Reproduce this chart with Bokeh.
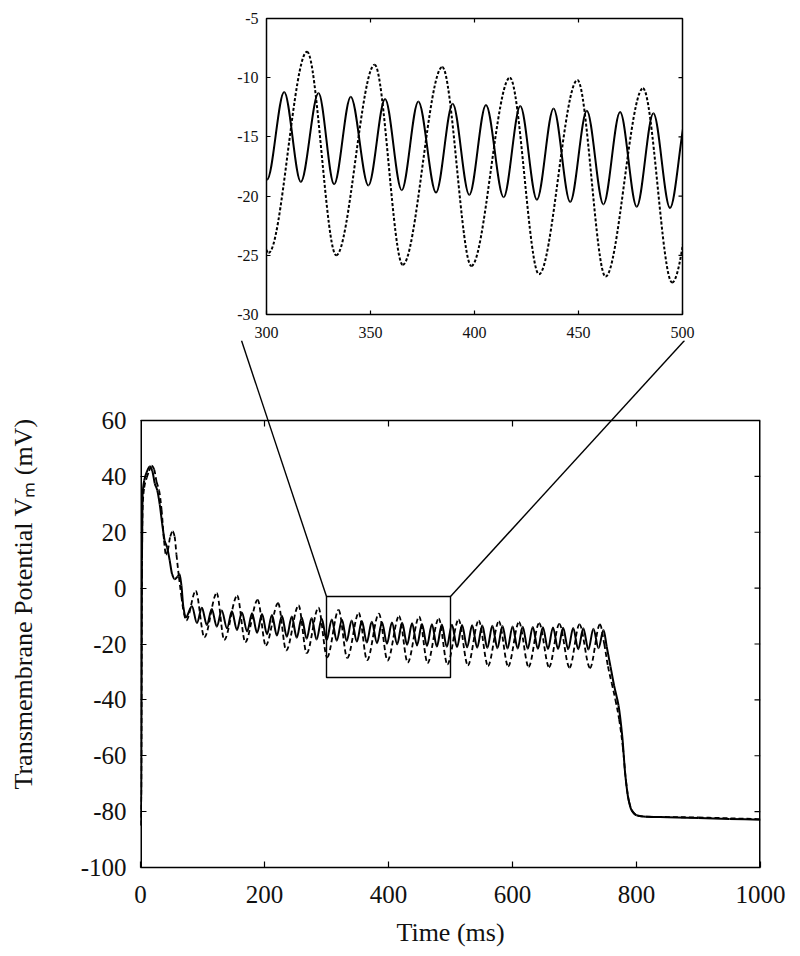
import numpy as np
from bokeh.plotting import figure
from bokeh.models import (Range1d, FixedTicker, CustomJSTickFormatter, Span, ColumnDataSource)
from bokeh.embed import file_html
from bokeh.resources import INLINE

# ---------------- data ----------------
solid_t = [0, 1.2, 2.3, 3.3, 6, 10, 15, 19, 23, 27, 31, 35, 39, 43, 47, 51, 55, 60, 63, 66, 69, 73,
           83, 91, 99, 107, 115, 123, 131, 139.5, 147.5, 155.5, 163.5, 172, 180, 188, 196, 204,
           212, 220, 228, 236, 244, 252, 260, 268, 276, 284, 292.3, 300.3, 308.5, 316.5, 325,
           332.5, 340.5, 349, 357, 365, 373, 381.5, 389.5, 397.5, 405.5, 414, 422, 430, 438, 446,
           454, 462, 470, 478, 486, 494, 502.3, 510.5, 518.6, 526.8, 534.9, 543, 551.2, 559.4,
           567.5, 575.7, 583.8, 592, 600.1, 608.3, 616.4, 624.6, 632.7, 640.9, 649, 657.2, 665.3,
           673.5, 681.6, 689.8, 697.9, 706, 714.2, 722.4, 730.5, 738.7, 746.8,
           752, 758, 764, 771, 777, 782, 787, 792, 800, 815, 850, 900, 950, 1000]
solid_v = [-85, -72, 10, 33, 38.5, 41.5, 43.5, 42, 37.5, 35, 30, 23, 17, 14.5, 10, 5, 3.2, 4.2, 5, 1, -6.5, -10.5,
           -6.5, -12.5, -7.0, -13.2, -7.5, -13.8, -8.0, -14.4, -8.3, -15.0, -8.7, -15.5, -9.0, -16.0, -9.3, -16.5,
           -9.6, -17.0, -9.9, -17.4, -10.2, -17.8, -10.5, -18.1, -10.7, -18.4, -11.0, -18.6, -11.2, -18.8, -11.3,
           -19.0, -11.6, -19.1, -11.8, -19.5, -12.0, -19.7, -12.2, -19.9, -12.3, -20.1, -12.4, -20.3, -12.6, -20.5,
           -12.8, -20.7, -12.9, -20.9, -13.0, -21.0, -13.1, -21.1, -13.2, -21.2, -13.3, -21.3, -13.4, -21.4,
           -13.5, -21.5, -13.6, -21.6, -13.7, -21.6, -13.8, -21.7, -13.9, -21.7, -14.0, -21.8, -14.1,
           -21.8, -14.2, -21.9, -14.3, -21.9, -14.4, -22.0, -14.5, -21.5, -15.0,
           -21, -28, -35, -42, -53, -67, -75.5, -79.5, -81.3, -81.8, -82.0, -82.3, -82.6, -82.9]

dashed_t = [0, 1.2, 2.3, 3.3, 6, 10, 14, 18, 22, 26, 30, 34, 38, 41, 44, 48, 52, 55, 58, 62, 66, 70, 74,
            89, 103, 123, 135, 156, 169, 189, 202, 222, 235, 255, 268, 287, 301, 319.5, 333.5, 352,
            365.5, 384.5, 398.5, 417, 431, 449.5, 463, 481, 495, 513, 528, 545.5, 560.5, 578, 593,
            610.5, 626, 643, 659, 675.5, 692, 708, 725, 741,
            748, 754, 760, 766, 772, 778, 783, 788, 794, 802, 820, 900, 1000]
dashed_v = [-85, -74, 5, 28, 36, 39.5, 42, 43.8, 42.5, 38, 35, 28, 17, 12, 13.5, 18.5, 20.3, 18.5, 12, 4, -3, -9, -11.5,
            -1.0, -17.6, -1.8, -18.5, -2.7, -19.3, -4.2, -20.5, -5.4, -22.3, -6.2, -23.3, -7.0, -24.8, -7.8, -25.0, -8.9,
            -25.8, -9.1, -25.9, -10.0, -26.6, -10.2, -26.8, -10.9, -27.3, -11.3, -27.6, -11.6, -27.8, -11.9, -28.0,
            -12.2, -28.2, -12.5, -28.3, -12.8, -28.5, -13.0, -28.6, -13.0,
            -20, -28, -34, -40, -47, -57, -69, -76.5, -80, -81.5, -81.8, -82.1, -82.7]

main_x_ticks = [0, 200, 400, 600, 800, 1000]
main_y_ticks = [-100, -80, -60, -40, -20, 0, 20, 40, 60]
inset_x_ticks = [300, 350, 400, 450, 500]
inset_y_ticks = [-30, -25, -20, -15, -10, -5]
zoom_box_x = [300, 500]
zoom_box_y = [-32, -3]

# ---------------- layout constants (page pixels) ----------------
FONT = "Liberation Serif"
TXT = "#111111"
W = 790
INSET_H = 340
MAIN_H = 614
MAIN_CANVAS_TOP = INSET_H        # page y where main figure canvas starts
FRAME_L, FRAME_R = 140, 760      # page x of main axes box
BOX_TOP, BOX_BOT = 420, 867      # page y of main axes box (60 / -100)
XMIN, XMAX = main_x_ticks[0], main_x_ticks[-1]
YMIN, YMAX = main_y_ticks[0], main_y_ticks[-1]
PX_X = (FRAME_R - FRAME_L) / (XMAX - XMIN)
PX_Y = (BOX_BOT - BOX_TOP) / (YMAX - YMIN)
Y_END = YMAX + (BOX_TOP - MAIN_CANVAS_TOP) / PX_Y   # frame extended above the box
YLABEL_CENTER_PY = 616


def px2x(px):
    return XMIN + (px - FRAME_L) / PX_X


def py2y(py):
    return YMAX - (py - BOX_TOP) / PX_Y


def bezier_source(t, v):
    t = np.asarray(t, float)
    v = np.asarray(v, float)
    h = np.diff(t)
    d = np.diff(v) / h
    s = np.zeros_like(v)
    for i in range(1, len(v) - 1):
        if d[i - 1] * d[i] > 0:
            w1 = 2 * h[i] + h[i - 1]
            w2 = h[i] + 2 * h[i - 1]
            s[i] = (w1 + w2) / (w1 / d[i - 1] + w2 / d[i])
    s[0] = d[0]
    s[-1] = d[-1]
    return ColumnDataSource(dict(
        x0=t[:-1], y0=v[:-1], x1=t[1:], y1=v[1:],
        cx0=t[:-1] + h / 3, cy0=v[:-1] + s[:-1] * h / 3,
        cx1=t[1:] - h / 3, cy1=v[1:] - s[1:] * h / 3))


src_solid = bezier_source(solid_t, solid_v)
src_dashed = bezier_source(dashed_t, dashed_v)
fmt = CustomJSTickFormatter(code="return String(Math.round(tick));")
BZ = dict(x0="x0", y0="y0", x1="x1", y1="y1", cx0="cx0", cy0="cy0", cx1="cx1", cy1="cy1")

# ---------------- inset figure ----------------
IN_L, IN_R, IN_T, IN_B = 266, 682, 18, 314
ins = figure(width=W, height=INSET_H, x_range=Range1d(inset_x_ticks[0], inset_x_ticks[-1]),
             y_range=Range1d(inset_y_ticks[0], inset_y_ticks[-1]),
             output_backend="svg", toolbar_location=None,
             min_border_left=IN_L, min_border_right=W - IN_R,
             min_border_top=IN_T, min_border_bottom=INSET_H - IN_B)
ins.grid.visible = False
ins.outline_line_color = "black"
ins.outline_line_width = 1.5
for ax, ticks in ((ins.xaxis[0], inset_x_ticks), (ins.yaxis[0], inset_y_ticks)):
    ax.ticker = FixedTicker(ticks=ticks)
    ax.formatter = fmt
    ax.axis_line_color = None
    ax.major_tick_in = 4
    ax.major_tick_out = 0
    ax.minor_tick_in = 0
    ax.minor_tick_out = 0
    ax.major_tick_line_width = 1.2
    ax.major_label_text_font = FONT
    ax.major_label_text_font_size = "16px"
    ax.major_label_text_color = TXT
ins.xaxis[0].major_label_standoff = 12
ins.yaxis[0].major_label_standoff = 8

# mirrored ticks on top and right of inset
tl_x = 4 * (inset_x_ticks[-1] - inset_x_ticks[0]) / (IN_R - IN_L)
tl_y = 4 * (inset_y_ticks[-1] - inset_y_ticks[0]) / (IN_B - IN_T)
ins.segment(x0=inset_x_ticks[1:-1], y0=[inset_y_ticks[-1]] * 3, x1=inset_x_ticks[1:-1],
            y1=[inset_y_ticks[-1] - tl_y] * 3, line_color="black", line_width=1.2)
ins.segment(x0=[inset_x_ticks[-1]] * 4, y0=inset_y_ticks[1:-1], x1=[inset_x_ticks[-1] - tl_x] * 4,
            y1=inset_y_ticks[1:-1], line_color="black", line_width=1.2)

ins.bezier(source=src_solid, line_color="black", line_width=2.0, **BZ)
ins.bezier(source=src_dashed, line_color="black", line_width=2.0, line_dash="3 2", **BZ)

# ---------------- main figure ----------------
p = figure(width=W, height=MAIN_H, x_range=Range1d(XMIN, XMAX), y_range=Range1d(YMIN, Y_END),
           output_backend="svg", toolbar_location=None,
           min_border_left=FRAME_L, min_border_right=W - FRAME_R,
           min_border_top=0, min_border_bottom=MAIN_H - (BOX_BOT - MAIN_CANVAS_TOP))
p.grid.visible = False
p.outline_line_color = None

xa = p.xaxis[0]
ya = p.yaxis[0]
xa.ticker = FixedTicker(ticks=main_x_ticks)
ya.ticker = FixedTicker(ticks=main_y_ticks)
# bounds chosen so that the axis title is centred where it sits in the original
ya.bounds = (YMIN, 2 * py2y(YLABEL_CENTER_PY) - YMIN)
ya.axis_line_color = None
for ax in (xa, ya):
    ax.formatter = fmt
    ax.axis_line_width = 1.5
    ax.major_tick_in = 6
    ax.major_tick_out = 0
    ax.minor_tick_in = 0
    ax.minor_tick_out = 0
    ax.major_tick_line_width = 1.2
    ax.major_label_text_font = FONT
    ax.major_label_text_font_size = "25px"
    ax.major_label_text_color = TXT
    ax.axis_label_text_font = FONT
    ax.axis_label_text_font_size = "26px"
    ax.axis_label_text_font_style = "normal"
    ax.axis_label_text_color = TXT
xa.major_label_standoff = 18
ya.major_label_standoff = 14
xa.axis_label = "Time (ms)"
xa.axis_label_standoff = 12
ya.axis_label = "Transmembrane Potential V\u2098 (mV)"
ya.axis_label_standoff = 40

# box edges (left/right/top) and mirrored ticks
p.segment(x0=[XMIN, XMAX], y0=[YMIN, YMIN], x1=[XMIN, XMAX], y1=[YMAX, YMAX],
          line_color="black", line_width=3)
p.add_layout(Span(location=YMAX, dimension="width", line_color="black", line_width=1.5))
p.segment(x0=main_x_ticks[1:-1], y0=[YMAX] * 4, x1=main_x_ticks[1:-1],
          y1=[YMAX - 6 / PX_Y] * 4, line_color="black", line_width=1.2)
p.segment(x0=[XMAX] * 7, y0=main_y_ticks[1:-1], x1=[XMAX - 6 / PX_X] * 7,
          y1=main_y_ticks[1:-1], line_color="black", line_width=1.2)

# zoom box and connector lines
p.quad(left=[zoom_box_x[0]], right=[zoom_box_x[1]], bottom=[zoom_box_y[0]], top=[zoom_box_y[1]],
       fill_color=None, line_color="black", line_width=1.4)
p.segment(x0=zoom_box_x, y0=[zoom_box_y[1]] * 2, x1=[px2x(241), px2x(684)], y1=[Y_END] * 2,
          line_color="black", line_width=1.4)

p.bezier(source=src_solid, line_color="black", line_width=2.0, **BZ)
p.bezier(source=src_dashed, line_color="black", line_width=1.8, line_dash="5 3", **BZ)

with open("out.html", "w") as f:
    f.write(file_html([ins, p], INLINE))
